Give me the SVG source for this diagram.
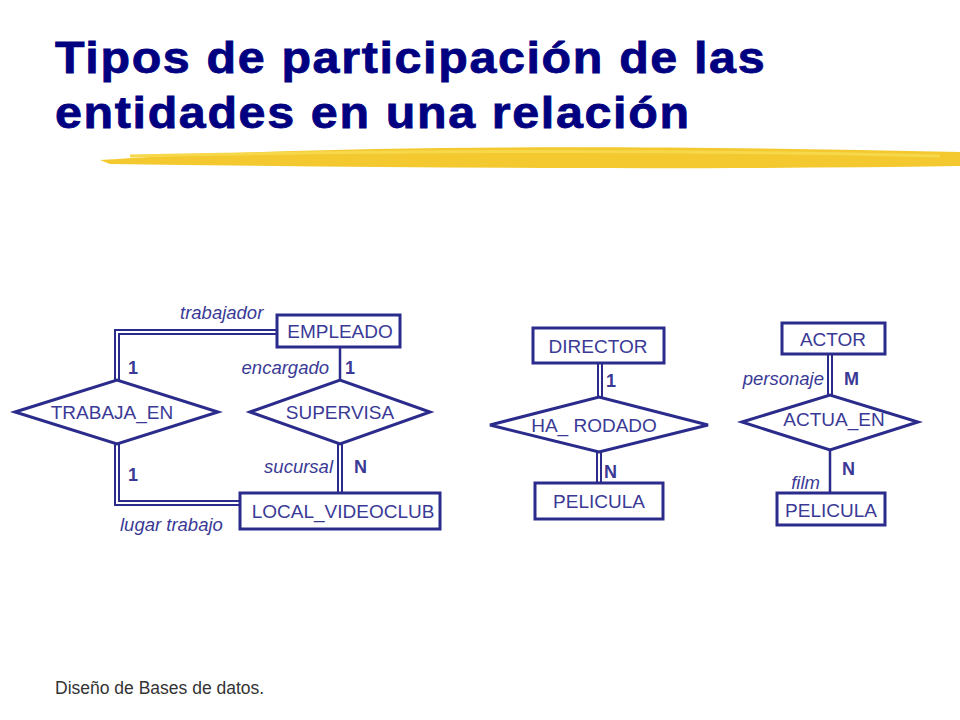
<svg xmlns="http://www.w3.org/2000/svg" width="960" height="720" viewBox="0 0 960 720">
<style>
.t{font-family:"Liberation Sans",Arial,sans-serif;fill:#3a3a96}
.e{font-size:19px;text-anchor:middle}
.i{font-size:18.5px;font-style:italic}
.b{font-size:18px;font-weight:bold}
.s{fill:#fff;stroke:#2b2b8c;stroke-width:3}
.c line,.c polyline{stroke:#2b2b8c;stroke-width:2.5;fill:none}
.d{stroke:#2b2b8c;stroke-width:6;fill:none}
.w{stroke:#fff;stroke-width:2;fill:none}
.h{font-family:"Liberation Sans",Arial,sans-serif;font-weight:bold;font-size:44px;fill:#000080;letter-spacing:1.5px;stroke:#000080;stroke-width:0.8}
</style>
<rect width="960" height="720" fill="#fff"/>
<g transform="scale(1.1,1)">
<text class="h" x="50" y="73">Tipos de participación de las</text>
<text class="h" x="50" y="128">entidades en una relación</text>
</g>
<path d="M100,160 C300,146 600,144 960,152 L960,166 C700,170 400,168 110,164 Z" fill="#f2c318" opacity="0.9"/>
<path d="M130,156 C400,150 700,150 940,156" stroke="#f7d84a" stroke-width="3" fill="none"/>
<g id="connectors">
<polyline class="d" points="277,332 117,332 117,380"/><polyline class="w" points="277,332 117,332 117,380"/>
<polyline class="d" points="117,444 117,503 240,503"/><polyline class="w" points="117,444 117,503 240,503"/>
<g class="c"><line x1="340" y1="347" x2="340" y2="380"/></g>
<line class="d" x1="340" y1="444" x2="340" y2="493"/><line class="w" x1="340" y1="444" x2="340" y2="493"/>
<line class="d" x1="600" y1="363" x2="600" y2="397"/><line class="w" x1="600" y1="363" x2="600" y2="397"/>
<line class="d" x1="599" y1="452" x2="599" y2="483"/><line class="w" x1="599" y1="452" x2="599" y2="483"/>
<line class="d" x1="830" y1="354" x2="830" y2="395"/><line class="w" x1="830" y1="354" x2="830" y2="395"/>
<g class="c"><line x1="830" y1="450" x2="830" y2="493"/></g>
</g>
<g id="empleado"><rect class="s" x="277" y="315" width="123" height="32"/><text class="t e" x="340" y="338">EMPLEADO</text></g>
<g id="trabaja_en"><polygon class="s" points="15,412 117,380 218,412 117,444"/><text class="t e" x="112" y="419">TRABAJA_EN</text></g>
<g id="supervisa"><polygon class="s" points="250,412 340,380 430,412 340,444"/><text class="t e" x="340" y="419">SUPERVISA</text></g>
<g id="local"><rect class="s" x="240" y="493" width="200" height="36"/><text class="t e" x="343" y="518">LOCAL_VIDEOCLUB</text></g>
<g id="director"><rect class="s" x="533" y="328" width="131" height="35"/><text class="t e" x="598" y="353">DIRECTOR</text></g>
<g id="ha_rodado"><polygon class="s" points="490,425 599,397 708,425 599,452"/><text class="t e" x="594" y="432">HA_ RODADO</text></g>
<g id="pelicula1"><rect class="s" x="535" y="483" width="128" height="36"/><text class="t e" x="599" y="508">PELICULA</text></g>
<g id="actor"><rect class="s" x="782" y="323" width="103" height="31"/><text class="t e" x="833" y="346">ACTOR</text></g>
<g id="actua_en"><polygon class="s" points="742,422 830,395 918,422 830,450"/><text class="t e" x="834" y="426">ACTUA_EN</text></g>
<g id="pelicula2"><rect class="s" x="777" y="493" width="108" height="32"/><text class="t e" x="831" y="517">PELICULA</text></g>
<g id="labels">
<text class="t i" x="180" y="319">trabajador</text>
<text class="t b" x="128" y="374">1</text>
<text class="t i" x="329" y="374" text-anchor="end">encargado</text>
<text class="t b" x="345" y="374">1</text>
<text class="t i" x="333" y="473" text-anchor="end">sucursal</text>
<text class="t b" x="354" y="473">N</text>
<text class="t b" x="128" y="481">1</text>
<text class="t i" x="120" y="531">lugar  trabajo</text>
<text class="t b" x="606" y="387">1</text>
<text class="t b" x="604" y="478">N</text>
<text class="t i" x="824" y="385" text-anchor="end">personaje</text>
<text class="t b" x="844" y="385">M</text>
<text class="t i" x="820" y="489" text-anchor="end">film</text>
<text class="t b" x="842" y="475">N</text>
</g>
<text x="55" y="694" font-family="Liberation Sans,Arial,sans-serif" font-size="17.5" fill="#333">Diseño de Bases de datos.</text>
</svg>
